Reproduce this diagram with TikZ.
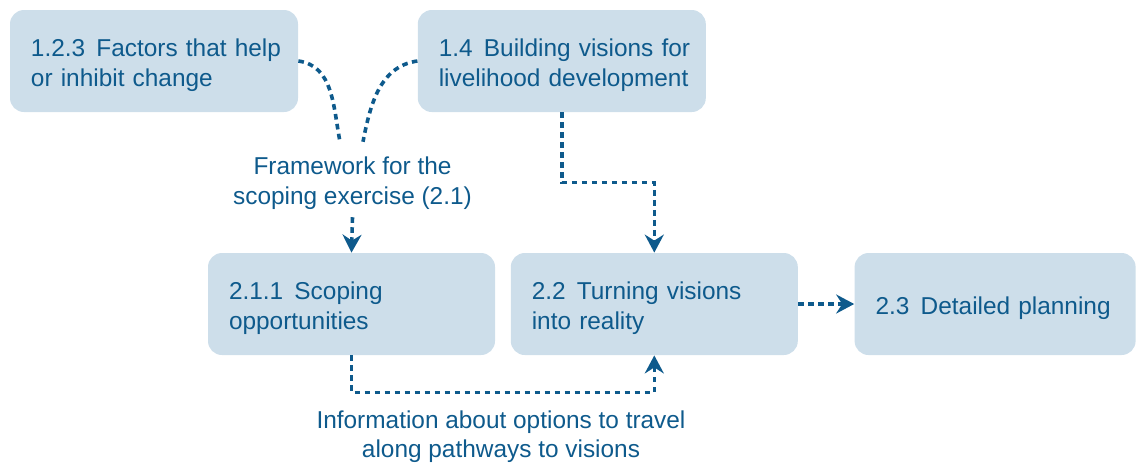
\documentclass[tikz,border=0pt]{standalone}
\usepackage{fontspec}
\setmainfont{Liberation Sans}
\usepackage{tikz}
\usetikzlibrary{positioning,arrows.meta}

\definecolor{boxfill}{RGB}{205,222,234}
\definecolor{ink}{RGB}{14,90,140}
\hyphenpenalty=10000
\exhyphenpenalty=10000
\newcommand{\numgap}{\kern5.6pt}

\tikzset{
  stage/.style={draw=none, fill=boxfill, rounded corners=7pt, text=ink,
    font=\fontsize{12.2}{14.8}\selectfont, align=left, text width=#1,
    inner xsep=10.5pt, minimum height=51pt,
    execute at begin node={\rule{0pt}{13pt}}},
  stage/.default=123pt,
  note/.style={text=ink, font=\fontsize{12.2}{14.8}\selectfont, align=center},
  link/.style={draw=ink, line width=1.8pt, dash pattern=on 2.8pt off 2.2pt},
  tip/.style={link, -{Stealth[length=9pt,width=9.5pt,inset=3pt]}}
}

\begin{document}
\begin{tikzpicture}[x=1pt,y=1pt]

  \useasboundingbox (0,0) rectangle (568,-231.5);

  % Define nodes
  \node[stage]                            (factors)  at (77,-30.5) {1.2.3\numgap Factors~that~help\\or inhibit change};
  \node[stage, right=59.5pt of factors]   (visions)  {1.4\numgap Building~visions~for\\livelihood~development};
  \node[stage, text width=122.5pt]        (scoping)  at (175.75,-152) {2.1.1\numgap Scoping\\opportunities};
  \node[stage, text width=122.5pt, right=7.5pt of scoping] (reality) {2.2\numgap Turning~visions\\into reality};
  \node[stage, text width=119.5pt, right=28pt of reality]  (planning) {2.3\numgap Detailed~planning};

  \node[note] (framework) at (176.25,-91.5) {Framework for the\\scoping exercise (2.1)};
  \node[note] (info)      at (250.5,-218.25) {Information about options to travel\\along pathways to visions};

  \coordinate (fwleft)  at ([xshift=-6.25pt,yshift=4pt]framework.north);
  \coordinate (fwright) at ([xshift=5.25pt,yshift=4pt]framework.north);

  % Connect the nodes
  \draw[link] (factors.east) to[out=-8,in=101] (fwleft) ; %
  \draw[link] (visions.west) to[out=188,in=79] (fwright) ; %
  \draw[tip] ([yshift=-0.5pt]framework.south) -- (scoping.north) ; %
  \draw[tip] (visions.south) -- ++(0,-35pt) -| (reality.north) ; %
  \draw[tip] (scoping.south) -- ++(0,-18.5pt) -| (reality.south) ; %
  \draw[tip] (reality.east) -- (planning.west) ; %

\end{tikzpicture}
\end{document}
